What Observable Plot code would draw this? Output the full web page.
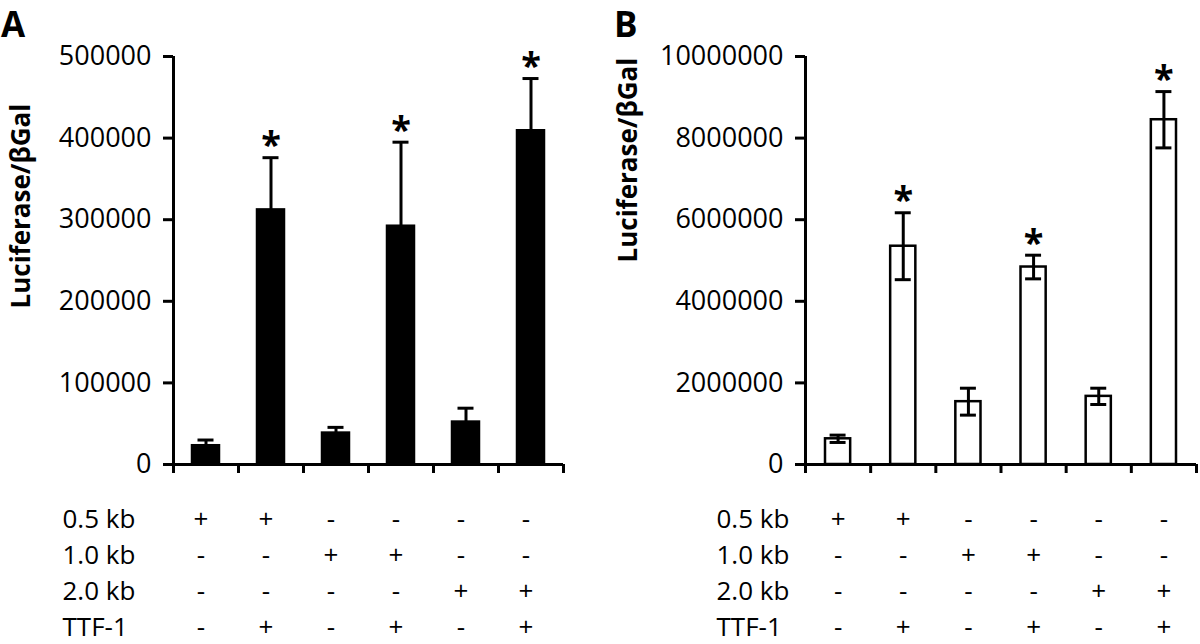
<!DOCTYPE html>
<html><head><meta charset="utf-8">
<script src="https://cdn.jsdelivr.net/npm/d3@7"></script>
<script src="https://cdn.jsdelivr.net/npm/@observablehq/plot@0.6"></script>
<style>
body{margin:0;background:#fff;}
#wrap{position:relative;width:1200px;height:644px;overflow:hidden;background:#fff;font-family:"Open Sans",sans-serif;}
.panel{position:absolute;}
.letter{position:absolute;font-weight:700;font-size:35px;line-height:normal;color:#000;}
</style></head><body><div id="wrap"></div>
<script>
// ---- data ----
const rowLabels = ["0.5 kb", "1.0 kb", "2.0 kb", "TTF-1"];
const kb05 = ["+", "+", "-", "-", "-", "-"];
const kb10 = ["-", "-", "+", "+", "-", "-"];
const kb20 = ["-", "-", "-", "-", "+", "+"];
const ttf1 = ["-", "+", "-", "+", "-", "+"];
const meanA = [23000, 312000, 38500, 292000, 52000, 409000];
const errA = [7000, 64000, 7000, 103000, 17000, 64000];
const meanB = [630000, 5350000, 1540000, 4840000, 1670000, 8450000];
const errB = [90000, 820000, 330000, 290000, 200000, 690000];
const signif = [false, true, false, true, false, true];
const ticksA = [0, 100000, 200000, 300000, 400000, 500000];
const ticksB = [0, 2000000, 4000000, 6000000, 8000000, 10000000];
const yLabel = "Luciferase/βGal";

const wrap = document.getElementById("wrap");
function place(node, left, top) {
  node.classList.add("panel");
  node.style.left = left + "px";
  node.style.top = top + "px";
  wrap.appendChild(node);
}

function chart({means, errs, ticks, yMax, fill, twoSided, marginLeft, marginRight, barInset, capInset, labelDx, labelDy}) {
  const data = means.map((m, i) => ({i, m, e: errs[i], s: signif[i]}));
  return Plot.plot({
    width: 600, height: 480,
    marginTop: 56, marginBottom: 16, marginLeft, marginRight,
    style: {fontFamily: "Open Sans", fontSize: "27px", color: "black", background: "white", overflow: "visible"},
    x: {domain: [0, 6]},
    y: {domain: [0, yMax]},
    marks: [
      Plot.rect(data, {x1: d => d.i, x2: d => d.i + 1, y1: 0, y2: "m", insetLeft: barInset, insetRight: barInset, fill, stroke: "black", strokeWidth: 2.5}),
      Plot.ruleX(data, {x: d => d.i + 0.5, y1: d => twoSided ? d.m - d.e : d.m, y2: d => d.m + d.e, strokeWidth: 3}),
      Plot.ruleY(data, {y: d => d.m + d.e, x1: d => d.i, x2: d => d.i + 1, insetLeft: capInset, insetRight: capInset, strokeWidth: 3}),
      twoSided ? Plot.ruleY(data, {y: d => d.m - d.e, x1: d => d.i, x2: d => d.i + 1, insetLeft: capInset, insetRight: capInset, strokeWidth: 3}) : null,
      Plot.text(data.filter(d => d.s), {x: d => d.i + 0.5, y: d => d.m + d.e, text: () => "*", dy: -12, fontSize: 36, fontWeight: "bold"}),
      Plot.ruleY([0], {strokeWidth: 3, insetLeft: -8}),
      Plot.ruleX([0], {strokeWidth: 3}),
      Plot.axisY({ticks, tickSize: 10, tickPadding: 12, tickFormat: d3.format("d"), strokeWidth: 3, fontSize: 27, label: null}),
      Plot.axisX({ticks: d3.range(7), tickSize: 9, tickFormat: () => "", strokeWidth: 3, label: null}),
      Plot.text([yLabel], {text: d => d, frameAnchor: "left", rotate: -90, dx: labelDx, dy: labelDy, fontSize: 26, fontWeight: "bold"})
    ]
  });
}

function table({marginLeft, marginRight, labelDx, symDx}) {
  const rows = [kb05, kb10, kb20, ttf1];
  const cells = [];
  rows.forEach((vals, ri) => vals.forEach((v, i) => cells.push({row: rowLabels[ri], i, v})));
  return Plot.plot({
    width: 600, height: 164,
    marginTop: 39, marginBottom: 17, marginLeft, marginRight,
    style: {fontFamily: "Open Sans", fontSize: "26px", color: "black", background: "white", overflow: "visible"},
    x: {domain: [0, 6], axis: null},
    y: {type: "point", domain: rowLabels, padding: 0, axis: null},
    marks: [
      Plot.text(cells, {x: d => d.i + 0.5, y: "row", text: "v", dx: symDx, fontSize: 26}),
      Plot.text(rowLabels, {y: d => d, text: d => d, frameAnchor: "left", dx: labelDx, textAnchor: "start", fontSize: 26})
    ]
  });
}

place(chart({means: meanA, errs: errA, ticks: ticksA, yMax: 500000, fill: "black", twoSided: false,
  marginLeft: 173, marginRight: 37, barInset: 19, capInset: 24.5, labelDx: -152, labelDy: 48}), 0, 0);
place(table({marginLeft: 173, marginRight: 37, labelDx: -111, symDx: -5}), 0, 480);
place(chart({means: meanB, errs: errB, ticks: ticksB, yMax: 10000000, fill: "white", twoSided: true,
  marginLeft: 205, marginRight: 4, barInset: 20, capInset: 24.6, labelDx: -177, labelDy: 2}), 600, 0);
place(table({marginLeft: 205, marginRight: 4, labelDx: -89, symDx: 0}), 600, 480);

const la = document.createElement("div"); la.className = "letter"; la.textContent = "A";
la.style.left = "1px"; la.style.top = "0px"; wrap.appendChild(la);
const lb = document.createElement("div"); lb.className = "letter"; lb.textContent = "B";
lb.style.left = "614px"; lb.style.top = "0px"; wrap.appendChild(lb);
</script></body></html>
